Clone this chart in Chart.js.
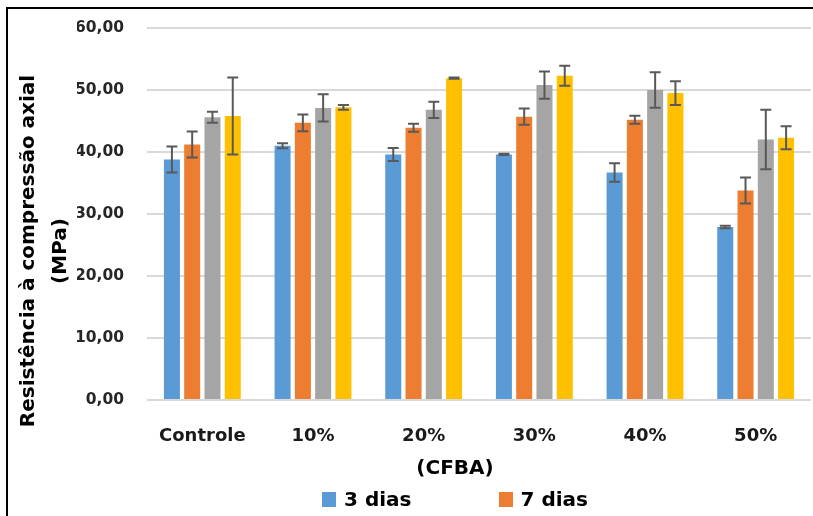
<!DOCTYPE html>
<html lang="pt">
<head>
  <meta charset="UTF-8" />
  <title>Resistência à compressão axial</title>
  <script src="https://cdn.jsdelivr.net/npm/chart.js"></script>
  <style>
    html, body {
      margin: 0;
      padding: 0;
      background: #fff;
      overflow: hidden;
    }
    #wrap {
      position: relative;
      width: 813px;
      height: 516px;
      overflow: hidden;
      font-family: 'DejaVu Sans', sans-serif;
      font-weight: bold;
    }
    #chartBox {
      position: absolute;
      left: 0;
      top: 0;
      width: 813px;
      height: 516px;
    }
    .frame {
      position: absolute;
      left: 6px;
      top: 7px;
      width: 900px;
      height: 600px;
      border-left: 2px solid #000;
      border-top: 2px solid #000;
      pointer-events: none;
    }
    #xTitle {
      position: absolute;
      left: 0;
      top: 455px;
      width: 910px;
      text-align: center;
      font-size: 20px;
      line-height: 24px;
      color: #000;
    }
    #legend {
      position: absolute;
      left: 310px;
      top: 487px;
      width: 290px;
      display: flex;
      flex-wrap: wrap;
      justify-content: center;
      column-gap: 87px;
      row-gap: 16px;
      font-size: 20px;
      line-height: 24px;
      color: #000;
    }
    .legend-item {
      display: flex;
      align-items: center;
      gap: 8px;
    }
    .legend-item span.box {
      display: inline-block;
      width: 14px;
      height: 15px;
    }
  </style>
</head>
<body>
  <div id="wrap">
    <div id="chartBox"><canvas id="chart"></canvas></div>
    <div id="xTitle">(CFBA)</div>
    <div id="legend"></div>
    <div class="frame"></div>
  </div>

  <script>
    // categories and series (MPa)
    const categories = ['Controle', '10%', '20%', '30%', '40%', '50%'];
    const seriesNames = ['3 dias', '7 dias', '28 dias', '91 dias'];
    const seriesColors = ['#5B9BD5', '#ED7D31', '#A5A5A5', '#FFC000'];

    const dias3 = [38.8, 41.0, 39.6, 39.6, 36.7, 27.9];
    const dias3Err = [2.1, 0.4, 1.05, 0.1, 1.5, 0.2];
    const dias7 = [41.2, 44.7, 43.9, 45.7, 45.2, 33.8];
    const dias7Err = [2.1, 1.35, 0.65, 1.3, 0.65, 2.1];
    const dias28 = [45.6, 47.1, 46.8, 50.8, 50.0, 42.0];
    const dias28Err = [0.9, 2.2, 1.3, 2.2, 2.85, 4.8];
    const dias91 = [45.8, 47.2, 51.9, 52.3, 49.5, 42.3];
    const dias91Err = [6.2, 0.4, 0.1, 1.6, 1.9, 1.85];

    const yTickLabels = ['0,00', '10,00', '20,00', '30,00', '40,00', '50,00', '60,00'];

    const seriesValues = [dias3, dias7, dias28, dias91];
    const seriesErrors = [dias3Err, dias7Err, dias28Err, dias91Err];

    // draws the +/- error whiskers on top of each bar
    const errorBars = {
      id: 'errorBars',
      afterDatasetsDraw(chart) {
        const ctx = chart.ctx;
        const yScale = chart.scales.y;
        ctx.save();
        ctx.strokeStyle = '#595959';
        ctx.lineWidth = 2;
        chart.data.datasets.forEach((ds, i) => {
          chart.getDatasetMeta(i).data.forEach((bar, j) => {
            const v = ds.data[j];
            const e = ds.errors[j];
            const top = yScale.getPixelForValue(v + e);
            const bot = yScale.getPixelForValue(v - e);
            ctx.beginPath();
            ctx.moveTo(bar.x, top);
            ctx.lineTo(bar.x, bot);
            ctx.moveTo(bar.x - 5.5, top);
            ctx.lineTo(bar.x + 5.5, top);
            ctx.moveTo(bar.x - 5.5, bot);
            ctx.lineTo(bar.x + 5.5, bot);
            ctx.stroke();
          });
        });
        ctx.restore();
      }
    };

    const datasets = seriesNames.map((name, i) => ({
      label: name,
      data: seriesValues[i],
      errors: seriesErrors[i],
      backgroundColor: seriesColors[i],
      borderWidth: 0,
      categoryPercentage: 0.733,
      barPercentage: 0.79
    }));

    const ctx = document.getElementById('chart').getContext('2d');
    new Chart(ctx, {
      type: 'bar',
      data: { labels: categories, datasets: datasets },
      plugins: [errorBars],
      options: {
        responsive: true,
        maintainAspectRatio: false,
        animation: false,
        layout: { padding: { left: 0, right: 2, top: 28, bottom: 42 } },
        plugins: {
          legend: { display: false },
          tooltip: { enabled: false },
          title: {
            display: true,
            position: 'left',
            fullSize: true,
            text: ['Resistência à compressão axial', '(MPa)'],
            color: '#000',
            font: { family: 'DejaVu Sans', weight: 'bold', size: 20, lineHeight: '32px' },
            padding: { top: 13, bottom: 0 }
          }
        },
        scales: {
          x: {
            grid: { display: false },
            border: { display: false },
            ticks: {
              color: '#1a1a1a',
              padding: 18,
              maxRotation: 0,
              font: { family: 'DejaVu Sans', weight: 'bold', size: 18 }
            },
            afterFit(scale) { scale.height = 74; }
          },
          y: {
            min: 0,
            max: 60,
            border: { display: false },
            grid: { color: '#d9d9d9', lineWidth: 2, drawTicks: false },
            ticks: {
              stepSize: 10,
              color: '#262626',
              padding: 23,
              font: { family: 'DejaVu Sans', weight: 'bold', size: 15.5 },
              callback: (v, i) => yTickLabels[i]
            },
            afterFit(scale) {
              scale.width = 70;
              scale.paddingTop = 0;
              scale.paddingBottom = 0;
            }
          }
        }
      }
    });

    // legend (only the first row shows inside the figure, as in the source)
    const legendEl = document.getElementById('legend');
    seriesNames.forEach((name, i) => {
      const item = document.createElement('div');
      item.className = 'legend-item';
      item.innerHTML = '<span class="box" style="background:' + seriesColors[i] + '"></span>' + name;
      legendEl.appendChild(item);
    });
  </script>
</body>
</html>
